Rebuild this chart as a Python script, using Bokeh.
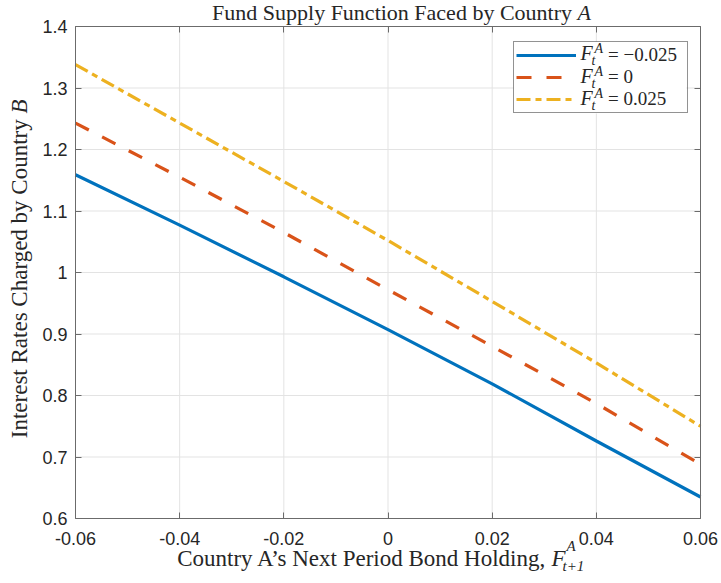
import math
from bokeh.plotting import figure
from bokeh.models import (Range1d, LinearAxis, FixedTicker, Label, Legend, LegendItem,
                          BoxAnnotation)
from bokeh.embed import file_html
from bokeh.resources import INLINE

# Next-period bond holding of country A
bond_holding = [-0.06, -0.04, -0.02, 0.0, 0.02, 0.04, 0.06]

# Interest rate charged by country B for three current holdings F_t^A
rate_neg = [1.159, 1.077, 0.993, 0.907, 0.819, 0.726, 0.635]    # F_t^A = -0.025
rate_zero = [1.243, 1.155, 1.065, 0.972, 0.880, 0.787, 0.688]   # F_t^A = 0
rate_pos = [1.338, 1.243, 1.148, 1.052, 0.953, 0.853, 0.750]    # F_t^A = 0.025
holding_labels = ["\u22120.025", "0", "0.025"]

x_ticks = [-0.06, -0.04, -0.02, 0.0, 0.02, 0.04, 0.06]
x_tick_labels = ["-0.06", "-0.04", "-0.02", "0", "0.02", "0.04", "0.06"]
y_ticks = [0.6, 0.7, 0.8, 0.9, 1.0, 1.1, 1.2, 1.3, 1.4]
y_tick_labels = ["0.6", "0.7", "0.8", "0.9", "1", "1.1", "1.2", "1.3", "1.4"]
X0, X1 = -0.06, 0.06
Y0, Y1 = 0.6, 1.4

# canvas geometry (pixels): the axes box sits inside a full-canvas frame
W, H = 721, 583
BOX_L, BOX_R, BOX_T, BOX_B = 75, 700, 26, 518
LEG_L, LEG_R, LEG_T, LEG_B = 513, 686, 41, 113
AX = "#6b6b6b"
TXT = "#262626"
SERIF = "Liberation Serif"
BASE_SHIFT = 0.36   # text baseline correction, in em

dx = (X1 - X0) / (BOX_R - BOX_L)
dy = (Y1 - Y0) / (BOX_B - BOX_T)
x_range = Range1d(X0 - BOX_L * dx, X1 + (W - BOX_R) * dx)
y_range = Range1d(Y0 - (H - BOX_B) * dy, Y1 + BOX_T * dy)

p = figure(frame_width=W, frame_height=H, output_backend="svg", toolbar_location=None,
           x_range=x_range, y_range=y_range,
           x_axis_location=None, y_axis_location=None,
           min_border=0, background_fill_color="white", border_fill_color="white")
p.outline_line_color = None
p.grid.visible = False

# grid lines inside the axes box
p.segment(x0=x_ticks, y0=Y0, x1=x_ticks, y1=Y1, line_color="#e3e3e3", line_width=1,
          level="underlay")
p.segment(x0=X0, y0=y_ticks, x1=X1, y1=y_ticks, line_color="#e3e3e3", line_width=1,
          level="underlay")

# white panel behind the legend
p.add_layout(BoxAnnotation(left=LEG_L, right=LEG_R, top=H - LEG_T, bottom=H - LEG_B,
                           left_units="screen", right_units="screen",
                           top_units="screen", bottom_units="screen",
                           fill_color="white", fill_alpha=1.0, line_color=None,
                           level="glyph"))


def box_axis(side, loc, ticks, bounds, labels=None):
    ax = LinearAxis(ticker=FixedTicker(ticks=ticks), fixed_location=loc, bounds=bounds)
    ax.axis_line_color = AX
    ax.axis_line_width = 1
    ax.major_tick_line_color = AX
    ax.major_tick_in = 6
    ax.major_tick_out = 0
    ax.minor_tick_line_color = None
    if labels is None:
        ax.major_label_overrides = {t: "" for t in ticks}
    else:
        ax.major_label_overrides = {t: s for t, s in zip(ticks, labels)}
        ax.major_label_text_font = "Liberation Sans"
        ax.major_label_text_font_size = "18px"
        ax.major_label_text_color = TXT
    p.add_layout(ax, side)
    return ax


bx = box_axis("below", Y0, x_ticks, (X0, X1), x_tick_labels)
bx.major_label_standoff = 13
ly = box_axis("left", X0, y_ticks, (Y0, Y1), y_tick_labels)
ly.major_label_standoff = 8
box_axis("above", Y1, x_ticks, (X0, X1))
box_axis("right", X1, y_ticks, (Y0, Y1))

r1 = p.line(bond_holding, rate_neg, line_color="#0072BD", line_width=3.2)
r2 = p.line(bond_holding, rate_zero, line_color="#D95319", line_width=3.2, line_dash="15 15")
r3 = p.line(bond_holding, rate_pos, line_color="#EDB120", line_width=3.2, line_dash="14 5 6 5")

legend = Legend(items=[LegendItem(label="= " + lab, renderers=[r])
                       for lab, r in zip(holding_labels, (r1, r2, r3))],
                location=(LEG_L, H - LEG_B),
                glyph_width=60, glyph_height=20, label_height=20, label_width=77,
                label_standoff=32, spacing=0, padding=2, margin=0,
                label_text_font=SERIF, label_text_font_size="19px", label_text_color=TXT,
                border_line_color=TXT, border_line_width=1,
                background_fill_alpha=0.0)
p.add_layout(legend, "center")


def put(cx, cy, text, size, italic=False, align="left", angle=0.0):
    """Place a text piece whose baseline passes through canvas pixel (cx, cy)."""
    if angle:
        cx -= BASE_SHIFT * size
    else:
        cy -= BASE_SHIFT * size
    p.add_layout(Label(x=cx, y=H - cy, x_units="screen", y_units="screen",
                       text=text, text_font=SERIF, text_font_size=f"{size}px",
                       text_font_style="italic" if italic else "normal",
                       text_color=TXT, text_align=align, text_baseline="alphabetic",
                       angle=angle))


# legend symbol F_t^A in front of each entry
for base in [60, 83, 105]:
    put(580, base, "F", 20, italic=True)
    put(594, base - 7, "A", 14, italic=True)
    put(591, base + 5, "t", 14, italic=True)

# title
put(577, 20, "Fund Supply Function Faced by Country ", 22, align="right")
put(577, 20, "A", 22, italic=True)

# x-axis label
put(546, 566, "Country A\u2019s Next Period Bond Holding,", 23, align="right")
put(551, 566, "F", 23, italic=True)
put(566, 551, "A", 15, italic=True)
put(562, 571, "t+1", 15, italic=True)

# y-axis label, rotated
put(27, 113, "Interest Rates Charged by Country ", 23, align="right", angle=math.pi / 2)
put(27, 113, "B", 23, italic=True, align="left", angle=math.pi / 2)

open("out.html", "w").write(file_html(p, INLINE))
